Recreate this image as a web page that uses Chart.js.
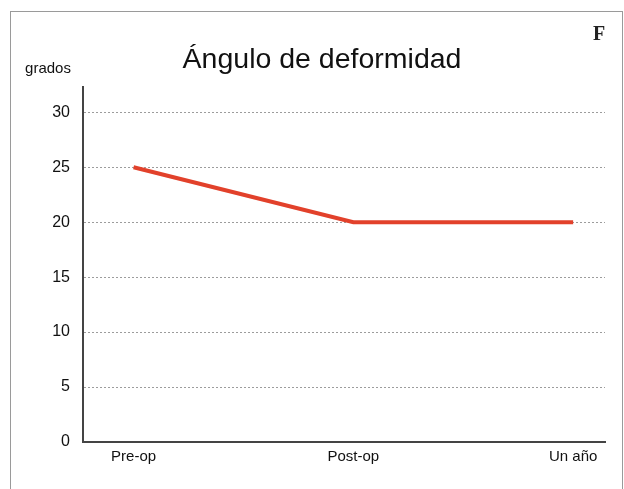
<!DOCTYPE html>
<html>
<head>
<meta charset="utf-8">
<script src="https://cdn.jsdelivr.net/npm/chart.js@4.4.0/dist/chart.umd.min.js"></script>
<style>
  html, body { margin: 0; padding: 0; background: #fff; }
  #wrap { position: relative; width: 624px; height: 489px; overflow: hidden; }
  #frame { position: absolute; left: 10px; top: 11px; width: 613px; height: 520px; border: 1px solid #9a9a9a; box-sizing: border-box; }
  canvas { position: absolute; left: 0; top: 0; }
</style>
</head>
<body>
<div id="wrap">
  <div id="frame"></div>
  <canvas id="c" width="624" height="489"></canvas>
</div>
<script>
// Ángulo de deformidad: medición antes de la operación, después y al año
const categories = ['Pre-op', 'Post-op', 'Un año'];
const angleValues = [25, 20, 20];
const yTicks = [0, 5, 10, 15, 20, 25, 30];

const chartTitle = 'Ángulo de deformidad';
const yUnit = 'grados';
const panelLetter = 'F';

const points = categories.map((c, i) => ({ x: i, y: angleValues[i] }));

// Título, unidad del eje y letra del panel
const annotations = {
  id: 'annotations',
  afterDraw(chart) {
    const ctx = chart.ctx;
    ctx.save();
    ctx.fillStyle = '#111';
    ctx.textBaseline = 'alphabetic';
    ctx.textAlign = 'center';
    ctx.font = '28.5px "Liberation Sans", Arial, sans-serif';
    ctx.fillText(chartTitle, 322, 68);
    ctx.font = '15px "Liberation Sans", Arial, sans-serif';
    ctx.fillText(yUnit, 48, 73);
    ctx.font = 'bold 20px "Liberation Serif", "Times New Roman", serif';
    ctx.fillStyle = '#222';
    ctx.fillText(panelLetter, 599, 40);
    ctx.restore();
  }
};

new Chart(document.getElementById('c'), {
  type: 'line',
  data: {
    datasets: [{
      data: points,
      borderColor: '#e2412b',
      borderWidth: 4,
      pointRadius: 0,
      tension: 0,
      fill: false
    }]
  },
  options: {
    responsive: false,
    animation: false,
    layout: { padding: { left: 0, right: 19, top: 87, bottom: 17 } },
    plugins: { legend: { display: false }, tooltip: { enabled: false } },
    scales: {
      x: {
        type: 'linear',
        min: -0.23,
        max: 2.145,
        afterBuildTicks(scale) { scale.ticks = categories.map((c, i) => ({ value: i })); },
        afterFit(scale) { scale.height = 30; },
        ticks: {
          callback: (v) => categories[v],
          color: '#111',
          font: { family: '"Liberation Sans", Arial, sans-serif', size: 15 },
          padding: 6,
          maxRotation: 0
        },
        grid: { display: false, drawTicks: false },
        border: { display: true, color: '#444', width: 2 }
      },
      y: {
        min: 0,
        max: 32.3,
        afterBuildTicks(scale) { scale.ticks = yTicks.map(v => ({ value: v })); },
        afterFit(scale) { scale.width = 83; },
        ticks: {
          color: '#111',
          font: { family: '"Liberation Sans", Arial, sans-serif', size: 16 },
          padding: 13
        },
        grid: {
          drawTicks: false,
          color: (ctx) => ctx.tick && ctx.tick.value === 0 ? 'rgba(0,0,0,0)' : '#9c9c9c',
          lineWidth: 1
        },
        border: { display: true, color: '#444', width: 2, dash: [2, 2] }
      }
    }
  },
  plugins: [annotations]
});
</script>
</body>
</html>
